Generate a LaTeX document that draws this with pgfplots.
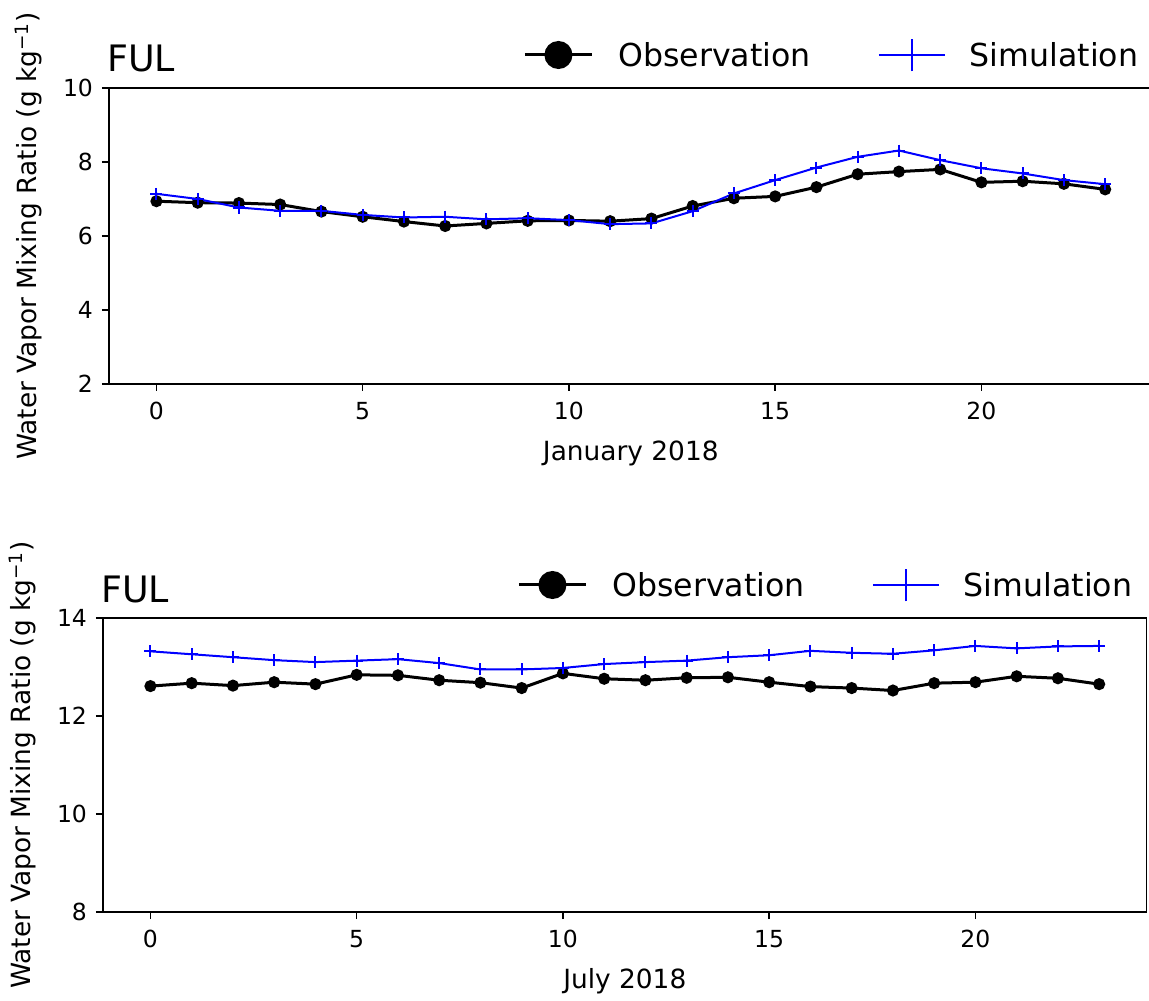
\documentclass[border=0pt]{standalone}
\usepackage{fontspec}
\setmainfont{DejaVu Sans}
\usepackage{pgfplots}
\pgfplotsset{compat=1.18}

% one px of the reference = 0.5pt
\pgfplotsset{
  fulpanel/.style={
    scale only axis, width=521.8pt, height=148pt,
    xmin=-1.15, xmax=24.15, xtick={0,5,10,15,20},
    axis line style={line width=0.8pt},
    tick style={line width=0.8pt,black}, major tick length=3.5pt,
    tick align=outside, tick pos=left,
    /pgf/number format/assume math mode=true,
    ticklabel style={font=\fontsize{11.75}{13}\selectfont},
    xticklabel style={yshift=-2pt},
    yticklabel style={xshift=-1pt},
    label style={font=\fontsize{13.2}{15}\selectfont},
    xlabel style={at={(axis description cs:0.5,-0.26)}, anchor=base},
    ylabel style={at={(axis description cs:-0.069,0.5)}, anchor=base},
    ylabel={Water Vapor Mixing Ratio (g kg\textsuperscript{−1})},
    title={FUL},
    title style={at={(axis description cs:0,1)}, anchor=base west, yshift=2pt,
      xshift=-1pt, inner sep=0pt, font=\fontsize{18.2}{20}\selectfont},
    legend style={at={(axis description cs:1,1)}, anchor=east, yshift=16.5pt,
      xshift=-7pt, draw=none, fill=none, inner sep=0pt,
      font=\fontsize{15.8}{18}\selectfont, nodes={inner sep=0pt},
      /tikz/every even column/.append style={column sep=33.5pt}},
    legend columns=2, legend cell align=left,
  },
  obs/.style={black, line width=1.5pt, mark=*, mark size=2.25pt,
    legend image code/.code={
      \draw[black,line width=1.5pt] (0pt,0.6pt) -- (33.5pt,0.6pt);
      \fill[black] (16.75pt,0.6pt) circle (6.25pt);
      \path (46pt,0.6pt);}},
  sim/.style={blue, line width=1pt, mark=+, mark size=3pt,
    legend image code/.code={
      \draw[blue,line width=1pt] (0pt,0.6pt) -- (33pt,0.6pt)
        (16.5pt,-7.6pt) -- (16.5pt,8.8pt);
      \path (45pt,0.6pt);}},
}

\begin{document}
\begin{tikzpicture}
\begin{axis}[fulpanel, at={(54.5pt,308pt)}, anchor=south west,
  ymin=2, ymax=10, ytick={2,4,6,8,10}, xlabel={January 2018}]
 \addplot[obs] coordinates {
  (0,6.94) (1,6.90) (2,6.89) (3,6.85) (4,6.66) (5,6.52) (6,6.39) (7,6.27)
  (8,6.34) (9,6.41) (10,6.42) (11,6.40) (12,6.47) (13,6.81) (14,7.02) (15,7.07)
  (16,7.32) (17,7.67) (18,7.74) (19,7.80) (20,7.45) (21,7.48) (22,7.41) (23,7.26)};
 \addlegendentry{Observation}
 \addplot[sim] coordinates {
  (0,7.14) (1,7.00) (2,6.77) (3,6.68) (4,6.68) (5,6.57) (6,6.50) (7,6.52)
  (8,6.45) (9,6.48) (10,6.43) (11,6.32) (12,6.34) (13,6.67) (14,7.15) (15,7.51)
  (16,7.85) (17,8.14) (18,8.31) (19,8.05) (20,7.83) (21,7.69) (22,7.51) (23,7.40)};
 \addlegendentry{Simulation}
\end{axis}
\begin{axis}[fulpanel, at={(51.5pt,44pt)}, anchor=south west, height=147pt,
  ymin=8, ymax=14, ytick={8,10,12,14}, xlabel={July 2018}]
 \addplot[obs] coordinates {
  (0,12.61) (1,12.67) (2,12.62) (3,12.69) (4,12.65) (5,12.84) (6,12.83) (7,12.73)
  (8,12.68) (9,12.57) (10,12.87) (11,12.76) (12,12.73) (13,12.78) (14,12.79) (15,12.69)
  (16,12.60) (17,12.57) (18,12.52) (19,12.67) (20,12.69) (21,12.81) (22,12.77) (23,12.65)};
 \addlegendentry{Observation}
 \addplot[sim] coordinates {
  (0,13.32) (1,13.26) (2,13.20) (3,13.14) (4,13.10) (5,13.13) (6,13.16) (7,13.08)
  (8,12.95) (9,12.95) (10,12.98) (11,13.06) (12,13.10) (13,13.13) (14,13.20) (15,13.24)
  (16,13.33) (17,13.29) (18,13.27) (19,13.34) (20,13.43) (21,13.38) (22,13.42) (23,13.43)};
 \addlegendentry{Simulation}
\end{axis}
\pgfresetboundingbox
\useasboundingbox (0,0) rectangle (574.5pt,500pt);
\end{tikzpicture}
\end{document}
